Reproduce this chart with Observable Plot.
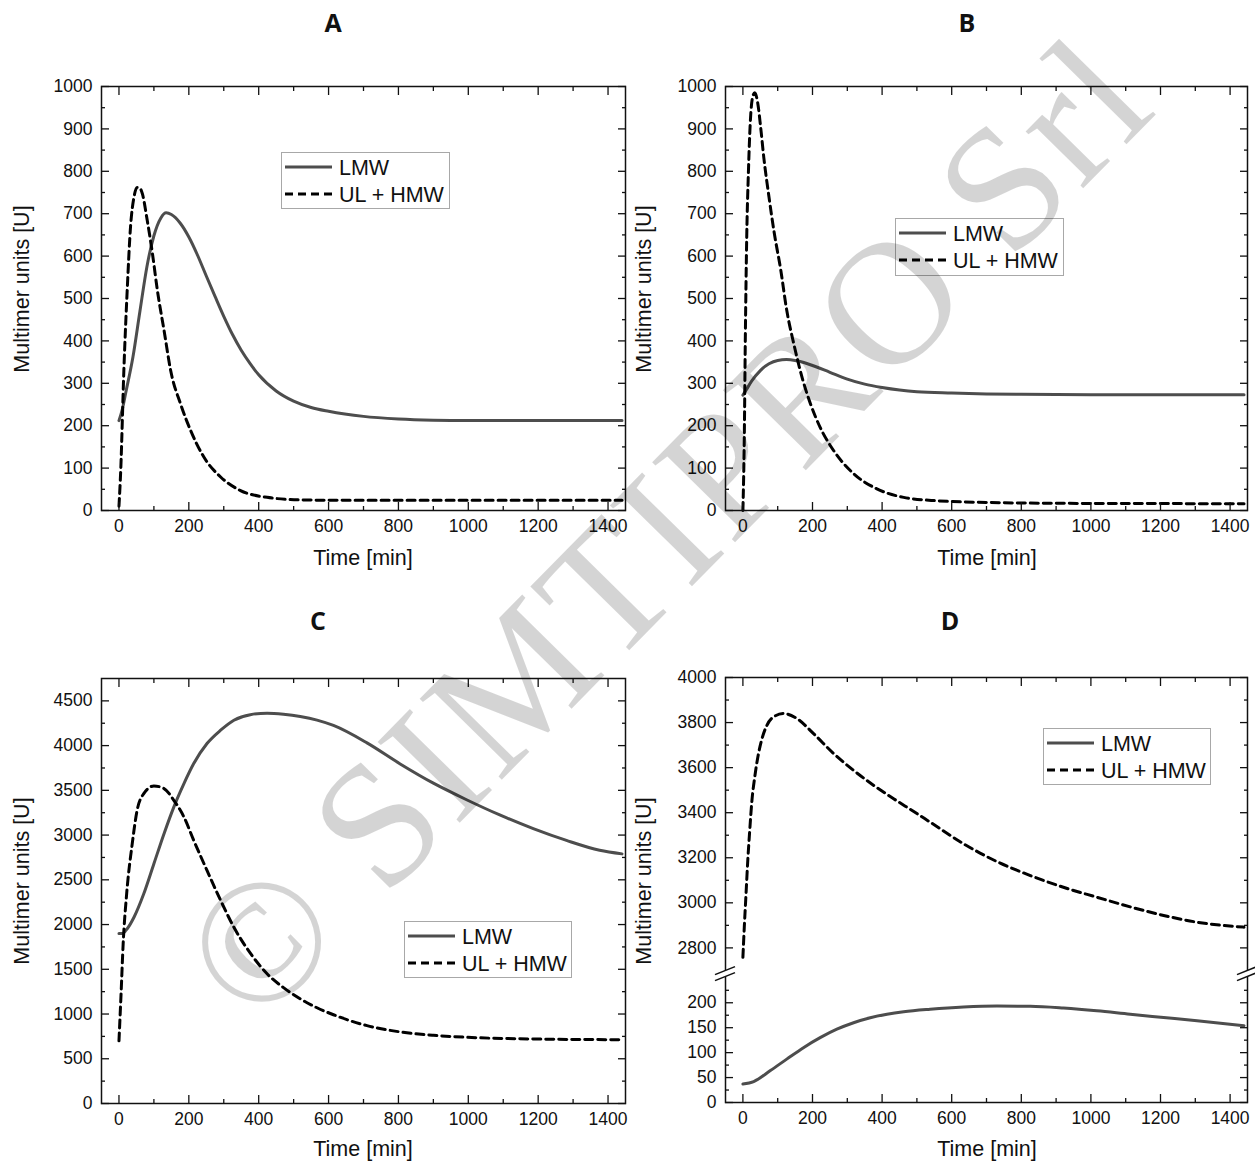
<!DOCTYPE html>
<html><head><meta charset="utf-8">
<script src="https://cdn.jsdelivr.net/npm/d3@7"></script>
<script src="https://cdn.jsdelivr.net/npm/@observablehq/plot@0.6"></script>
<style>
body{margin:0;background:#fff;}
#root{position:relative;width:1255px;height:1161px;overflow:hidden;font-family:"Liberation Sans",Arial,sans-serif;color:#111;}
.panel{position:absolute;}
.title{position:absolute;font-family:"Open Sans",sans-serif;font-weight:700;font-size:25px;transform:translate(-50%,-50%);line-height:1;}
.xlab{position:absolute;font-size:21.5px;transform:translate(-50%,-50%);white-space:nowrap;line-height:1;}
.ylab{position:absolute;font-size:21.5px;transform:translate(-50%,-50%) rotate(-90deg);white-space:nowrap;line-height:1;}
.legend,.wm{position:absolute;overflow:visible;}
</style></head><body><div id="root"></div>
<script>
// ---------- data (time in min, multimer units in U) ----------
const panelTitles = ["A", "B", "C", "D"];
const seriesNames = ["LMW", "UL + HMW"];
const xLabel = "Time [min]";
const yLabel = "Multimer units [U]";
const xMajorTicks = [0, 200, 400, 600, 800, 1000, 1200, 1400];
const xMinorTicks = [100, 300, 500, 700, 900, 1100, 1300];

const aLmwT = [0,10,20,40,60,80,100,120,135,150,175,200,225,250,275,300,325,350,375,400,450,500,550,600,700,800,900,1000,1200,1440];
const aLmwV = [212,240,280,362,470,575,648,690,702,698,678,645,602,553,505,458,415,378,347,320,282,258,243,234,222,216,213,212,212,212];
const aHmwT = [0,5,14,24,33,43,52,60,67,81,96,110,129,148,176,205,243,291,348,424,519,650,800,1000,1200,1440];
const aHmwV = [10,94,330,527,668,739,762,760,747,684,605,519,425,330,252,189,126,79,47,31,25,24,24,24,24,24];

const bLmwT = [0,10,25,50,75,100,125,150,175,200,250,300,350,400,450,500,600,700,800,1000,1200,1440];
const bLmwV = [272,285,305,330,346,354,356,354,349,342,326,310,298,290,284,280,277,275,274,273,273,273];
const bHmwT = [0,4,7,11,16,21,28,34,43,51,60,75,89,109,126,146,170,194,222,261,318,385,462,557,700,900,1100,1440];
const bHmwV = [0,173,409,645,802,912,975,985,959,904,833,739,660,566,472,394,314,252,196,141,87,51,31,23,19,17,16.5,16];

const cLmwT = [0,10,20,43,71,100,129,157,186,214,252,291,329,376,424,471,519,567,614,710,805,900,995,1090,1186,1281,1376,1440];
const cLmwV = [1900,1900,1935,2082,2344,2680,3016,3313,3575,3799,4023,4172,4284,4346,4362,4350,4325,4285,4225,4030,3795,3580,3395,3225,3072,2940,2830,2790];
const cHmwT = [0,6,12,22,38,52,71,100,129,157,186,214,252,291,329,376,424,471,519,567,614,710,805,900,995,1186,1440];
const cHmwV = [700,1225,1784,2344,2904,3277,3463,3549,3520,3389,3202,2941,2605,2270,1970,1680,1450,1295,1170,1070,992,870,800,762,740,721,713];

const dLmwT = [0,31,79,126,174,222,270,318,366,414,462,538,634,730,826,921,1017,1113,1209,1305,1440];
const dLmwV = [37,42,64,87,110,130,147,160,170,177,182,187,191.5,193.5,193,189.5,184,177,170.5,164,154];
const dHmwT = [0,4,9,14,19,26,34,43,55,69,88,117,155,203,261,318,376,433,491,538,634,730,826,921,1017,1113,1209,1305,1440];
const dHmwV = [2758,2892,3040,3188,3307,3455,3558,3647,3729,3788,3825,3840,3818,3751,3662,3588,3521,3462,3405,3358,3262,3183,3121,3069,3025,2982,2944,2914,2892];

const abYMajor = [0,100,200,300,400,500,600,700,800,900,1000];
const abYMinor = [50,150,250,350,450,550,650,750,850,950];
const cYMajor = [0,500,1000,1500,2000,2500,3000,3500,4000,4500];
const cYMinor = [250,750,1250,1750,2250,2750,3250,3750,4250];
const dYMajor = [0,50,100,150,200,2800,3000,3200,3400,3600,3800,4000];
const dYMinor = [25,75,125,175,225,2900,3100,3300,3500,3700,3900];
const dBreak = [250, 2700]; // axis break between these values
const dTop = 4000;

const watermark = "\u00A9 SIMTIPRO Srl";

// ---------- helpers ----------
const toRows = (T, V) => T.map((t, i) => ({t, v: V[i]}));
const root = document.getElementById("root");
const LMW_COLOR = "#4d4d4d";

// broken-axis transform for panel D: lower segment 0–250, squeezed gap, upper segment 2700–4000
const LOW_K = 0.4984, GAP = 7.4, HI_K = 0.2252;
function brokenY(v) {
  if (v <= dBreak[0]) return v * LOW_K;
  if (v < dBreak[1]) return dBreak[0] * LOW_K + (v - dBreak[0]) / (dBreak[1] - dBreak[0]) * GAP;
  return dBreak[0] * LOW_K + GAP + (v - dBreak[1]) * HI_K;
}

function tickMarks(xs, ys, len) {
  const f = () => "";
  return [
    Plot.axisX(xs, {anchor: "bottom", tickSize: len, dy: -len, tickFormat: f, label: null, strokeWidth: 1.3}),
    Plot.axisX(xs, {anchor: "top", tickSize: len, dy: len, tickFormat: f, label: null, strokeWidth: 1.3}),
    Plot.axisY(ys, {anchor: "left", tickSize: len, dx: len, tickFormat: f, label: null, strokeWidth: 1.3}),
    Plot.axisY(ys, {anchor: "right", tickSize: len, dx: -len, tickFormat: f, label: null, strokeWidth: 1.3})
  ];
}

function breakMark(fraction) {
  return (index, scales, values, dims) => {
    const g = d3.create("svg:g");
    const top = dims.marginTop, bottom = dims.height - dims.marginBottom;
    const yc = bottom - fraction * (bottom - top);
    for (const xc of [dims.marginLeft, dims.width - dims.marginRight]) {
      g.append("path")
        .attr("d", `M${xc - 10},${yc + 1} L${xc + 10},${yc - 7} L${xc + 10},${yc - 1} L${xc - 10},${yc + 7} Z`)
        .attr("fill", "white");
      g.append("line").attr("x1", xc - 10).attr("y1", yc + 1).attr("x2", xc + 10).attr("y2", yc - 7)
        .attr("stroke", "#111").attr("stroke-width", 1.6);
      g.append("line").attr("x1", xc - 10).attr("y1", yc + 7).attr("x2", xc + 10).attr("y2", yc - 1)
        .attr("stroke", "#111").attr("stroke-width", 1.6);
    }
    return g.node();
  };
}

function makePanel(p) {
  const marks = [
    Plot.line(p.lmw, {x: "t", y: "v", stroke: LMW_COLOR, strokeWidth: 3, curve: "monotone-x"}),
    Plot.line(p.hmw, {x: "t", y: "v", stroke: "#000", strokeWidth: 3, strokeDasharray: "8,5", curve: "monotone-x"}),
    Plot.frame({stroke: "#111", strokeWidth: 1.5}),
    ...tickMarks(xMajorTicks, p.yMajor, 8),
    ...tickMarks(xMinorTicks, p.yMinor, 4),
    Plot.axisX(xMajorTicks, {anchor: "bottom", tickSize: 0, tickPadding: 9, tickFormat: d => String(d), label: null, fontSize: 17.5}),
    Plot.axisY(p.yMajor, {anchor: "left", tickSize: 0, tickPadding: 9, tickFormat: d => String(d), label: null, fontSize: 17.5})
  ];
  if (p.brk) marks.push(breakMark(p.brk));
  const svg = Plot.plot({
    width: p.width, height: p.height,
    marginTop: p.m[0], marginRight: p.m[1], marginBottom: p.m[2], marginLeft: p.m[3],
    x: {domain: [-50, 1450]},
    y: p.y,
    style: {fontFamily: "'Liberation Sans', Arial, sans-serif", fontSize: "17.5px", color: "#111", background: "transparent", overflow: "visible"},
    marks
  });
  svg.classList.add("panel");
  svg.style.left = p.left + "px";
  svg.style.top = p.top + "px";
  root.appendChild(svg);

  const addDiv = (cls, text, x, yy) => {
    const d = document.createElement("div");
    d.className = cls; d.textContent = text;
    d.style.left = x + "px"; d.style.top = yy + "px";
    root.appendChild(d);
  };
  addDiv("title", p.title, p.titlePos[0], p.titlePos[1]);
  addDiv("xlab", xLabel, p.xlabPos[0], p.xlabPos[1]);
  addDiv("ylab", yLabel, p.ylabPos[0], p.ylabPos[1]);

  // legend
  const [lx, ly, lw, lh] = p.legend;
  const leg = d3.create("svg").attr("class", "legend").attr("width", lw).attr("height", lh)
    .style("left", lx + "px").style("top", ly + "px");
  leg.append("rect").attr("x", 0.5).attr("y", 0.5).attr("width", lw - 1).attr("height", lh - 1)
    .attr("fill", "white").attr("stroke", "#a8a8a8").attr("stroke-width", 1);
  const rows = [15, 42];
  seriesNames.forEach((name, i) => {
    leg.append("line").attr("x1", 4).attr("x2", 51).attr("y1", rows[i]).attr("y2", rows[i])
      .attr("stroke", i === 0 ? LMW_COLOR : "#000").attr("stroke-width", 3)
      .attr("stroke-dasharray", i === 0 ? null : "8,5");
    leg.append("text").attr("x", 58).attr("y", rows[i]).attr("dy", "0.36em")
      .attr("font-family", "'Liberation Sans', Arial, sans-serif").attr("font-size", 21.5).attr("fill", "#111")
      .text(name);
  });
  root.appendChild(leg.node());
}

makePanel({title: panelTitles[0], left: 0, top: 40, width: 640, height: 540, m: [46, 15, 70, 101],
  y: {domain: [0, 1000]}, yMajor: abYMajor, yMinor: abYMinor,
  lmw: toRows(aLmwT, aLmwV), hmw: toRows(aHmwT, aHmwV),
  titlePos: [333, 22], xlabPos: [363, 559], ylabPos: [23, 289], legend: [281, 152, 169, 57]});

makePanel({title: panelTitles[1], left: 627, top: 40, width: 628, height: 540, m: [46, 8, 70, 98],
  y: {domain: [0, 1000]}, yMajor: abYMajor, yMinor: abYMinor,
  lmw: toRows(bLmwT, bLmwV), hmw: toRows(bHmwT, bHmwV),
  titlePos: [967, 22], xlabPos: [987, 559], ylabPos: [645, 289], legend: [895, 218, 169, 58]});

makePanel({title: panelTitles[2], left: 0, top: 640, width: 640, height: 521, m: [38, 15, 58, 101],
  y: {domain: [0, 4750]}, yMajor: cYMajor, yMinor: cYMinor,
  lmw: toRows(cLmwT, cLmwV), hmw: toRows(cHmwT, cHmwV),
  titlePos: [318, 620], xlabPos: [363, 1150], ylabPos: [23, 881], legend: [404, 921, 168, 57]});

makePanel({title: panelTitles[3], left: 627, top: 640, width: 628, height: 521, m: [37, 8, 59, 98],
  y: {domain: [0, brokenY(dTop)], transform: brokenY},
  brk: (brokenY(dBreak[0]) + brokenY(dBreak[1])) / 2 / brokenY(dTop),
  yMajor: dYMajor, yMinor: dYMinor,
  lmw: toRows(dLmwT, dLmwV), hmw: toRows(dHmwT, dHmwV),
  titlePos: [950, 620], xlabPos: [987, 1150], ylabPos: [645, 881], legend: [1043, 728, 168, 57]});

// watermark overlay
const wm = d3.create("svg").attr("class", "wm").attr("width", 1255).attr("height", 1161)
  .style("left", "0px").style("top", "0px").style("pointer-events", "none");
wm.append("text").attr("transform", "translate(708,570) rotate(-45.5)")
  .attr("text-anchor", "middle").attr("font-family", "'Liberation Serif', 'Times New Roman', serif")
  .attr("font-size", 176).attr("letter-spacing", 3).attr("fill", "#000").attr("fill-opacity", 0.17).text(watermark);
root.appendChild(wm.node());
</script></body></html>
